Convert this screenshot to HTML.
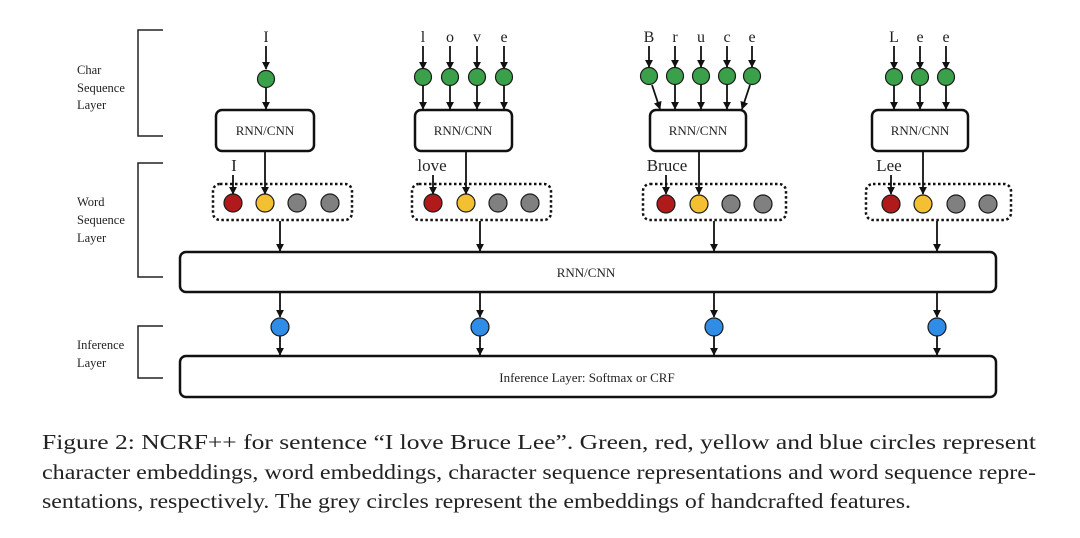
<!DOCTYPE html>
<html><head><meta charset="utf-8"><style>
html,body{margin:0;padding:0;background:#fff;}
svg{display:block;}
text{font-family:"Liberation Serif",serif;fill:#222;}
</style></head><body>
<svg width="1080" height="538" viewBox="0 0 1080 538" xmlns="http://www.w3.org/2000/svg">
<defs>
<marker id="a" viewBox="0 0 10 10" refX="9" refY="5" markerWidth="8" markerHeight="8" orient="auto-start-reverse" markerUnits="userSpaceOnUse">
<path d="M0,0 L10,5 L0,10 z" fill="#111"/>
</marker>
</defs>
<g stroke="#222" stroke-width="1.5" fill="none">
<path d="M163,30 H138 V136 H163"/>
<path d="M163,163 H138 V277 H163"/>
<path d="M163,326 H138 V378 H163"/>
</g>
<g font-size="12.5">
<text x="77" y="74">Char</text><text x="77" y="92">Sequence</text><text x="77" y="109">Layer</text>
<text x="77" y="206">Word</text><text x="77" y="224">Sequence</text><text x="77" y="242">Layer</text>
<text x="77" y="349">Inference</text><text x="77" y="367">Layer</text>
</g>
<g stroke="#111" stroke-width="2.5" fill="#fff">
<rect x="216" y="110" width="98" height="41" rx="6"/>
<rect x="415" y="110" width="97" height="41" rx="6"/>
<rect x="650" y="110" width="96" height="41" rx="6"/>
<rect x="872" y="110" width="96" height="41" rx="6"/>
<rect x="180" y="252" width="816" height="40" rx="6"/>
<rect x="180" y="356" width="816" height="41" rx="6"/>
</g>
<g stroke="#111" stroke-width="2.5" fill="none" stroke-dasharray="2.5 2.5">
<rect x="213" y="184" width="139" height="36" rx="7"/>
<rect x="412" y="184" width="139" height="36" rx="7"/>
<rect x="643" y="184" width="143" height="36" rx="7"/>
<rect x="866" y="184" width="145" height="36" rx="7"/>
</g>
<g font-size="13" text-anchor="middle">
<text x="265" y="135">RNN/CNN</text><text x="463" y="135">RNN/CNN</text>
<text x="698" y="135">RNN/CNN</text><text x="920" y="135">RNN/CNN</text>
<text x="586" y="277">RNN/CNN</text>
<text x="587" y="382">Inference  Layer: Softmax or CRF</text>
</g>
<g font-size="16" text-anchor="middle">
<text x="266" y="42">I</text>
<text x="423" y="42">l</text><text x="450" y="42">o</text><text x="477" y="42">v</text><text x="504" y="42">e</text>
<text x="649" y="42">B</text><text x="675" y="42">r</text><text x="701" y="42">u</text><text x="727" y="42">c</text><text x="752" y="42">e</text>
<text x="894" y="42">L</text><text x="920" y="42">e</text><text x="946" y="42">e</text>
</g>
<g font-size="17" text-anchor="middle">
<text x="234" y="171">I</text><text x="432" y="171">love</text><text x="667" y="171">Bruce</text><text x="889" y="171">Lee</text>
</g>
<g stroke="#111" stroke-width="1.8" marker-end="url(#a)">
<line x1="266" y1="46" x2="266" y2="69"/><line x1="266" y1="88" x2="266" y2="109"/>
<line x1="423" y1="46" x2="423" y2="69"/><line x1="450" y1="46" x2="450" y2="69"/><line x1="477" y1="46" x2="477" y2="69"/><line x1="504" y1="46" x2="504" y2="69"/>
<line x1="423" y1="86" x2="423" y2="109"/><line x1="450" y1="86" x2="450" y2="109"/><line x1="477" y1="86" x2="477" y2="109"/><line x1="504" y1="86" x2="504" y2="109"/>
<line x1="649" y1="46" x2="649" y2="67"/><line x1="675" y1="46" x2="675" y2="67"/><line x1="701" y1="46" x2="701" y2="67"/><line x1="727" y1="46" x2="727" y2="67"/><line x1="752" y1="46" x2="752" y2="67"/>
<line x1="652" y1="85" x2="660" y2="109"/><line x1="675" y1="85" x2="675" y2="109"/><line x1="701" y1="85" x2="701" y2="109"/><line x1="727" y1="85" x2="727" y2="109"/><line x1="750" y1="85" x2="742" y2="109"/>
<line x1="894" y1="46" x2="894" y2="69"/><line x1="920" y1="46" x2="920" y2="69"/><line x1="946" y1="46" x2="946" y2="69"/>
<line x1="894" y1="86" x2="894" y2="109"/><line x1="920" y1="86" x2="920" y2="109"/><line x1="946" y1="86" x2="946" y2="109"/>
<line x1="265" y1="152" x2="265" y2="194"/><line x1="466" y1="152" x2="466" y2="194"/><line x1="699" y1="152" x2="699" y2="194"/><line x1="923" y1="152" x2="923" y2="194"/>
<line x1="233" y1="175" x2="233" y2="194"/><line x1="433" y1="175" x2="433" y2="194"/><line x1="666" y1="175" x2="666" y2="194"/><line x1="891" y1="175" x2="891" y2="194"/>
<line x1="280" y1="221" x2="280" y2="251"/><line x1="480" y1="221" x2="480" y2="251"/><line x1="714" y1="221" x2="714" y2="251"/><line x1="937" y1="221" x2="937" y2="251"/>
<line x1="280" y1="293" x2="280" y2="317"/><line x1="480" y1="293" x2="480" y2="317"/><line x1="714" y1="293" x2="714" y2="317"/><line x1="937" y1="293" x2="937" y2="317"/>
<line x1="280" y1="336" x2="280" y2="355"/><line x1="480" y1="336" x2="480" y2="355"/><line x1="714" y1="336" x2="714" y2="355"/><line x1="937" y1="336" x2="937" y2="355"/>
</g>
<g stroke="#1a1a1a" stroke-width="1.2">
<g fill="#3aa04a">
<circle cx="266" cy="79" r="8.5"/>
<circle cx="423" cy="77" r="8.5"/><circle cx="450" cy="77" r="8.5"/><circle cx="477" cy="77" r="8.5"/><circle cx="504" cy="77" r="8.5"/>
<circle cx="649" cy="76" r="8.5"/><circle cx="675" cy="76" r="8.5"/><circle cx="701" cy="76" r="8.5"/><circle cx="727" cy="76" r="8.5"/><circle cx="752" cy="76" r="8.5"/>
<circle cx="894" cy="77" r="8.5"/><circle cx="920" cy="77" r="8.5"/><circle cx="946" cy="77" r="8.5"/>
</g>
<g fill="#b01a1a"><circle cx="233" cy="203" r="9"/><circle cx="433" cy="203" r="9"/><circle cx="666" cy="204" r="9"/><circle cx="891" cy="204" r="9"/></g>
<g fill="#f2c030"><circle cx="265" cy="203" r="9"/><circle cx="466" cy="203" r="9"/><circle cx="699" cy="204" r="9"/><circle cx="923" cy="204" r="9"/></g>
<g fill="#808080"><circle cx="297" cy="203" r="9"/><circle cx="330" cy="203" r="9"/><circle cx="498" cy="203" r="9"/><circle cx="530" cy="203" r="9"/><circle cx="731" cy="204" r="9"/><circle cx="763" cy="204" r="9"/><circle cx="956" cy="204" r="9"/><circle cx="988" cy="204" r="9"/></g>
<g fill="#2f8de8"><circle cx="280" cy="327" r="9"/><circle cx="480" cy="327" r="9"/><circle cx="714" cy="327" r="9"/><circle cx="937" cy="327" r="9"/></g>
</g>
<g font-size="21" style="fill:#1a1a1a">
<text x="42" y="449" textLength="994" lengthAdjust="spacingAndGlyphs">Figure 2:  NCRF++ for sentence “I love Bruce Lee”.  Green, red, yellow and blue circles represent</text>
<text x="42" y="479" textLength="994" lengthAdjust="spacingAndGlyphs">character embeddings, word embeddings, character sequence representations and word sequence repre-</text>
<text x="42" y="508" textLength="869" lengthAdjust="spacingAndGlyphs">sentations, respectively. The grey circles represent the embeddings of handcrafted features.</text>
</g>
</svg>
</body></html>
